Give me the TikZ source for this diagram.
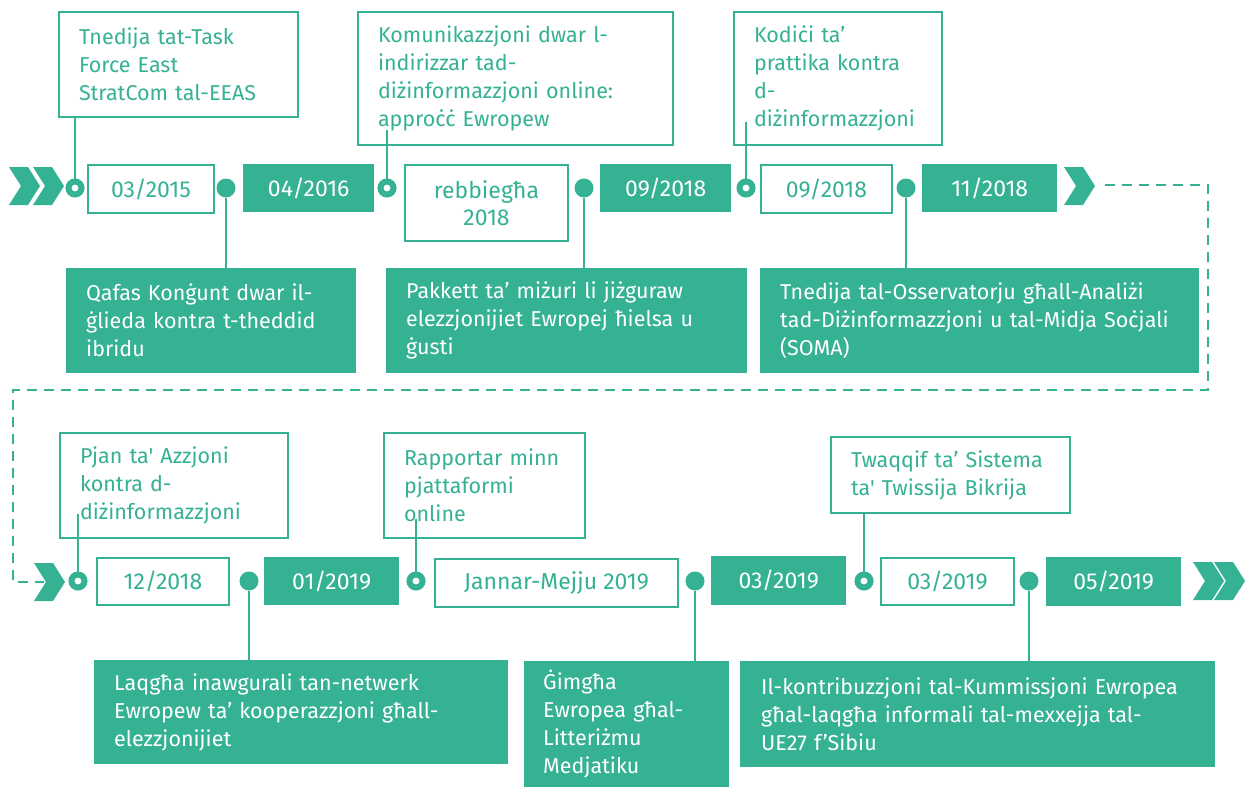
\documentclass[tikz,border=0pt]{standalone}
\usepackage{fontspec}
\newfontfamily\ecfont{Fira Sans}
\definecolor{ecteal}{RGB}{53,177,148}
\newcommand\chevshape[2]{\fill[ecteal] (#1,#2) -- ++(19,0) -- ++(12,19) -- ++(-12,19) -- ++(-19,0) -- ++(12,-19) -- cycle;}
\tikzset{
  txt/.style={font=\ecfont\fontsize{21.5}{28}\selectfont},
  outbox/.style={txt, draw=ecteal, line width=2pt, fill=white, text=ecteal, anchor=north west, inner sep=0pt},
  fillbox/.style={txt, fill=ecteal, text=white, anchor=north west, inner sep=0pt},
  textbox/.style={inner xsep=20pt, inner ysep=0pt, align=left},
  datebox/.style={align=center, font=\ecfont\fontsize{23}{27}\selectfont},
  hollowdot/.style={circle, draw=ecteal, fill=white, line width=6pt, minimum size=13pt, inner sep=0pt},
  fulldot/.style={circle, fill=ecteal, minimum size=19pt, inner sep=0pt},
  conn/.style={draw=ecteal, line width=2pt},
  dashconn/.style={draw=ecteal, line width=2.5pt, dash pattern=on 10pt off 7pt},
}
\begin{document}
\begin{tikzpicture}[x=1pt,y=-1pt]
\useasboundingbox (0,0) rectangle (1249,787);
\fill[white] (0,0) rectangle (1249,787);

% ---------- row 1 ----------
\node[outbox, textbox, minimum width=239pt, text width=199pt, minimum height=105pt] (t1) at (58,11)
  {Tnedija tat-Task\\Force East\\StratCom tal-EEAS};
\node[outbox, textbox, minimum width=315pt, text width=275pt, minimum height=133pt] (t2) at (357,11)
  {Komunikazzjoni dwar l-\\indirizzar tad-\\diżinformazzjoni online:\\approċċ Ewropew};
\node[outbox, textbox, minimum width=208pt, text width=168pt, minimum height=133pt] (t3) at (733,11)
  {Kodiċi ta’\\prattika kontra\\d-\\diżinformazzjoni};

\node[outbox, datebox, minimum width=126pt, minimum height=48pt] (d1) at (87,164) {03/2015};
\node[fillbox, datebox, minimum width=131pt, minimum height=48pt] (d2) at (243,164) {04/2016};
\node[outbox, datebox, minimum width=163pt, minimum height=76pt] (d3) at (404,164) {rebbiegħa\\2018};
\node[fillbox, datebox, minimum width=131pt, minimum height=48pt] (d4) at (600,164) {09/2018};
\node[outbox, datebox, minimum width=131pt, minimum height=48pt] (d5) at (760,164) {09/2018};
\node[fillbox, datebox, minimum width=135pt, minimum height=48pt] (d6) at (922,164) {11/2018};

\node[fillbox, textbox, minimum width=290pt, text width=250pt, minimum height=105pt] (b1) at (66,268)
  {Qafas Konġunt dwar il-\\ġlieda kontra t-theddid\\ibridu};
\node[fillbox, textbox, minimum width=361pt, text width=321pt, minimum height=105pt] (b2) at (386,268)
  {Pakkett ta’ miżuri li jiżguraw\\elezzjonijiet Ewropej ħielsa u\\ġusti};
\node[fillbox, textbox, minimum width=439pt, text width=399pt, minimum height=105pt] (b3) at (760,268)
  {Tnedija tal-Osservatorju għall-Analiżi\\tad-Diżinformazzjoni u tal-Midja Soċjali\\(SOMA)};

\node[hollowdot] (h1) at (75,188) {};
\node[fulldot] (f1) at (226,188) {};
\node[hollowdot] (h2) at (387,188) {};
\node[fulldot] (f2) at (584,188) {};
\node[hollowdot] (h3) at (746,188) {};
\node[fulldot] (f3) at (906,188) {};

\draw[conn] (h1) -- (h1 |- t1.south);
\draw[conn, shorten >=-16pt] (h2) -- (h2 |- t2.south);
\draw[conn, shorten >=-24pt] (h3) -- (h3 |- t3.south);
\draw[conn] (f1) -- (f1 |- b1.north);
\draw[conn] (f2) -- (f2 |- b2.north);
\draw[conn] (f3) -- (f3 |- b3.north);

\chevshape{9}{167}
\chevshape{33}{167}
\chevshape{1064}{167}

% ---------- link between rows ----------
\coordinate (ds) at (1105,185);
\coordinate (dc1) at (1208,390);
\coordinate (dc2) at (13,582);
\coordinate (de) at (44,582);
\draw[dashconn] (ds) -| (dc1) -| (dc2) -- (de);

% ---------- row 2 ----------
\node[outbox, textbox, minimum width=228pt, text width=188pt, minimum height=105pt] (t4) at (59,432)
  {Pjan ta' Azzjoni\\kontra d-\\diżinformazzjoni};
\node[outbox, textbox, minimum width=201pt, text width=161pt, minimum height=105pt] (t5) at (383,432)
  {Rapportar minn\\pjattaformi\\online};
\node[outbox, textbox, minimum width=239pt, text width=199pt, minimum height=76pt] (t6) at (830,436)
  {Twaqqif ta’ Sistema\\ta' Twissija Bikrija};

\node[outbox, datebox, minimum width=132pt, minimum height=47pt] (d7) at (96,557) {12/2018};
\node[fillbox, datebox, minimum width=135pt, minimum height=48pt] (d8) at (264,557) {01/2019};
\node[outbox, datebox, minimum width=243pt, minimum height=48pt] (d9) at (434,558) {Jannar-Mejju 2019};
\node[fillbox, datebox, minimum width=135pt, minimum height=49pt] (d10) at (711,556) {03/2019};
\node[outbox, datebox, minimum width=133pt, minimum height=47pt] (d11) at (880,557) {03/2019};
\node[fillbox, datebox, minimum width=135pt, minimum height=49pt] (d12) at (1046,557) {05/2019};

\node[fillbox, textbox, minimum width=414pt, text width=374pt, minimum height=104pt] (b4) at (94,660)
  {Laqgħa inawgurali tan-netwerk\\Ewropew ta’ kooperazzjoni għall-\\elezzjonijiet};
\node[fillbox, textbox, inner xsep=19pt, minimum width=205pt, text width=167pt, minimum height=126pt] (b5) at (524,661)
  {Ġimgħa\\Ewropea għal-\\Litteriżmu\\Medjatiku};
\node[fillbox, textbox, inner xsep=21pt, minimum width=475pt, text width=433pt, minimum height=106pt] (b6) at (740,661)
  {Il-kontribuzzjoni tal-Kummissjoni Ewropea\\għal-laqgħa informali tal-mexxejja tal-\\UE27 f’Sibiu};

\node[hollowdot] (h4) at (78,581) {};
\node[fulldot] (f4) at (249,581) {};
\node[hollowdot] (h5) at (416,581) {};
\node[fulldot] (f5) at (695,581) {};
\node[hollowdot] (h6) at (864,581) {};
\node[fulldot] (f6) at (1029,581) {};

\draw[conn, shorten >=-25pt] (h4) -- (h4 |- t4.south);
\draw[conn, shorten >=-20pt] (h5) -- (h5 |- t5.south);
\draw[conn] (h6) -- (h6 |- t6.south);
\draw[conn] (f4) -- (f4 |- b4.north);
\draw[conn] (f5) -- (f5 |- b5.north);
\draw[conn] (f6) -- (f6 |- b6.north);

\chevshape{34}{563}
\chevshape{1193}{562}
\chevshape{1214}{562}
\end{tikzpicture}
\end{document}
